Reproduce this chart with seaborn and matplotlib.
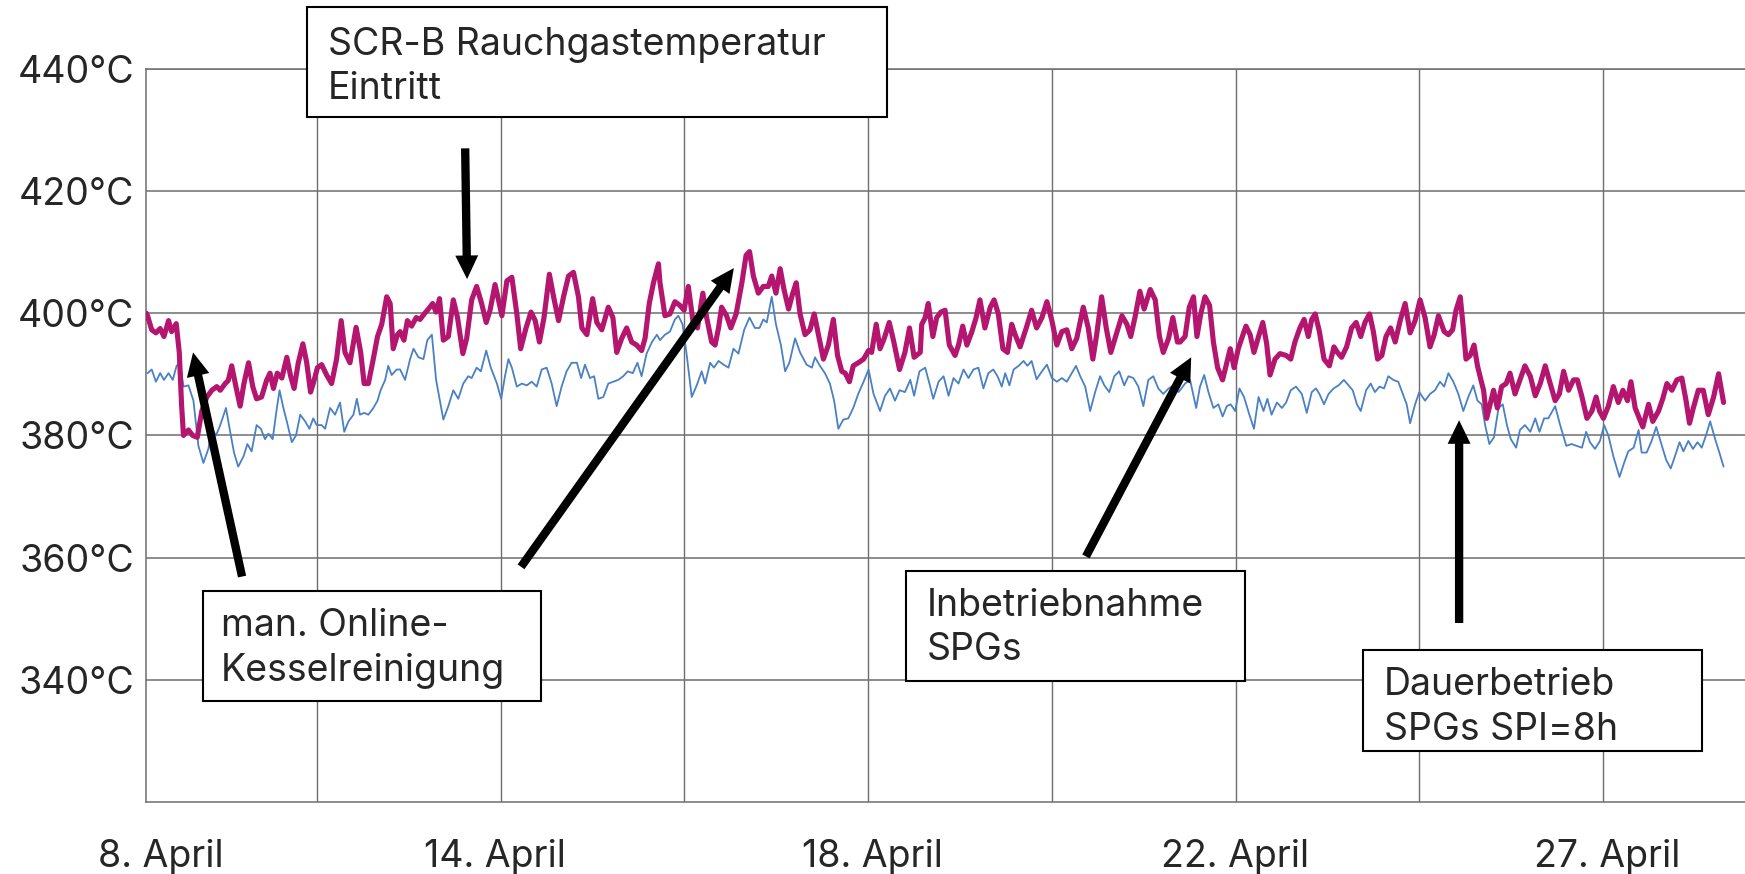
import matplotlib
matplotlib.use("Agg")
import matplotlib.pyplot as plt
import matplotlib.patches as mpatches
import pandas as pd
import seaborn as sns

# ------------------------
# Daten, Zeit in Stunden ab Start
# ------------------------
zeit_magenta = [
    3.4, 3.7, 4.8, 5.9, 7.0, 8.0, 9.2, 10.0, 11.2, 12.0, 12.6, 13.1, 14.4, 15.5, 16.7, 17.9, 19.2, 20.5, 21.8, 22.7,
    24.0, 24.8, 25.7, 26.8, 27.9, 28.9, 30.1, 31.2, 32.2, 33.5, 34.8, 35.7, 36.6, 37.6, 38.8, 40.1, 41.1, 42.0, 43.1, 44.3,
    45.3, 46.3, 47.0, 48.1, 49.2, 50.5, 51.8, 53.1, 54.3, 55.3, 56.6, 58.2, 59.4, 60.3, 61.4, 62.5, 63.8, 64.9, 66.2, 67.1,
    67.9, 69.0,
    69.7, 70.7, 71.6, 72.7, 73.9, 74.9, 76.0, 77.1, 78.2, 79.1, 80.0, 81.0, 82.3, 83.6, 84.7, 86.1, 87.1, 88.4, 89.7, 91.0,
    92.2, 93.2, 94.5, 95.4, 96.3, 97.6, 98.9, 100.2, 101.2, 102.6, 103.9, 105.0, 106.1, 107.3, 108.7, 109.8, 111.1, 112.4, 113.7, 115.0,
    116.3, 117.2, 118.5, 120.0, 121.1, 122.4, 124.1, 125.3, 126.3, 127.6, 128.9, 130.2, 131.5, 132.8, 133.7, 134.8, 135.9, 137.2,
    137.6, 138.9, 140.2, 141.5, 142.8, 143.9, 145.0, 146.2, 147.4, 148.8, 149.8, 151.1, 152.0, 152.9, 153.7, 155.0, 156.1, 157.5,
    159.0, 160.1, 161.0, 162.0, 163.3, 164.6, 165.9, 166.8, 167.9, 169.0, 170.0, 171.2, 172.3, 173.2, 174.2, 175.5, 176.8, 177.9,
    179.0, 180.3, 181.6, 182.9, 184.0, 185.1, 186.0, 187.1, 188.1, 189.4, 190.8, 192.1, 192.9, 194.1, 195.1, 196.2, 197.5, 198.6,
    200.2, 201.6, 202.8, 204.0, 205.6,
    206.0, 206.9, 207.7, 208.9, 209.9, 211.0, 212.1, 213.2, 214.7, 215.6, 216.7, 217.8, 219.1, 220.2, 221.2, 222.5, 223.9, 224.9,
    226.0, 227.2, 228.4, 229.5, 230.4, 231.7, 233.3, 234.7, 236.0, 237.4, 238.7, 240.0, 241.3, 242.6, 243.9, 245.2, 246.5, 248.2,
    249.5, 250.7, 251.7, 253.0, 254.2, 255.4, 256.5, 258.3, 259.6, 260.6, 261.7, 263.0, 264.1, 265.7, 267.0, 268.1, 269.1, 270.5,
    271.6, 272.8,
    273.5, 274.8, 275.9, 277.0, 277.9, 278.9, 280.0, 281.2, 282.2, 283.3, 284.6, 285.7, 286.6, 287.6, 288.7, 289.6, 290.7, 291.8,
    292.8, 294.0, 295.1, 296.1, 297.0, 298.3, 299.6, 301.2, 302.4, 303.5, 304.8, 305.9, 307.0, 307.9, 308.8, 309.9, 311.1, 312.5,
    313.7, 314.6, 315.7, 317.0, 318.3, 319.5, 320.7, 321.8, 323.0, 324.0, 325.1, 326.2, 327.3, 328.5, 329.7, 331.0, 332.3, 333.6,
    334.9, 336.2, 337.5, 338.8, 339.9, 341.0,
    342.5, 343.6, 344.7, 345.6, 346.7, 347.4, 348.2, 349.3, 350.3, 351.2, 352.1, 352.8, 353.6, 354.5, 355.4, 356.4, 357.5, 358.7,
    359.7, 361.0, 362.3, 363.6, 365.0, 366.3, 367.6, 368.9, 370.2, 371.5, 372.6, 373.7, 375.0, 376.3, 377.3, 378.5, 379.8, 381.1,
    382.2, 383.1, 384.1, 385.4, 386.7, 388.0, 389.2, 390.4, 391.3, 392.4, 393.5, 394.4, 395.9, 397.0, 398.5, 399.6, 400.7, 402.0,
    403.3, 404.6, 405.7, 406.6, 407.6, 408.9, 410.2, 411.5, 412.9, 414.2, 415.5,
]
temp_magenta = [
    400.0, 399.6, 397.3, 396.8, 397.5, 396.2, 398.8, 397.0, 398.3, 393.6, 385.0, 380.0, 380.9, 380.0, 379.7, 384.0, 386.3, 387.4, 388.0, 387.4,
    388.5, 389.0, 391.4, 388.0, 384.8, 388.5, 391.9, 388.0, 386.0, 386.3, 389.0, 390.2, 387.7, 390.2, 389.4, 392.8, 389.7, 387.7, 391.9, 395.0,
    391.9, 387.1, 388.5, 391.1, 391.6, 389.9, 388.5, 392.5, 398.8, 393.6, 391.9, 397.7, 393.6, 388.5, 388.5, 391.9, 396.2, 398.2, 402.7, 401.6,
    394.2, 396.5,
    397.0, 395.6, 398.8, 397.9, 399.3, 399.0, 399.9, 400.7, 401.6, 400.2, 402.4, 395.6, 396.2, 402.2, 399.3, 393.4, 395.9, 402.2, 404.4, 401.6,
    398.5, 400.5, 404.7, 402.2, 399.6, 405.3, 405.9, 399.9, 394.2, 397.6, 400.2, 398.8, 395.3, 399.3, 406.4, 402.7, 398.8, 402.7, 406.1, 406.7,
    402.7, 397.6, 396.5, 402.4, 398.5, 397.3, 401.0, 399.3, 393.6, 395.9, 397.6, 395.3, 394.8, 393.9, 395.9, 401.6, 405.0, 408.1,
    405.0, 399.6, 399.9, 401.9, 401.3, 400.5, 404.4, 398.8, 397.6, 403.3, 399.3, 395.3, 394.8, 397.6, 401.0, 399.6, 397.6, 399.9,
    405.0, 409.5, 410.1, 406.1, 403.3, 404.4, 404.4, 406.1, 403.3, 407.3, 403.9, 400.7, 403.3, 405.0, 399.9, 396.5, 397.3, 399.9,
    396.5, 392.5, 394.8, 399.0, 393.1, 390.5, 390.2, 388.8, 391.4, 391.9, 392.5, 393.9, 393.6, 398.2, 394.2, 395.9, 398.5, 395.6,
    390.8, 393.6, 397.6, 392.8, 393.6,
    398.2, 399.3, 401.6, 396.2, 399.3, 400.2, 400.5, 394.8, 393.1, 394.8, 397.9, 394.8, 397.0, 399.3, 402.2, 397.6, 401.0, 402.2,
    399.9, 394.2, 393.6, 398.2, 396.5, 394.5, 397.6, 400.5, 397.6, 399.3, 401.9, 398.8, 394.8, 397.0, 397.3, 394.2, 395.9, 401.0,
    397.6, 392.5, 396.5, 402.7, 397.6, 393.6, 395.9, 399.6, 398.2, 396.2, 399.3, 403.6, 400.7, 403.9, 402.2, 396.2, 393.6, 395.9,
    399.3, 395.3,
    395.3, 396.2, 401.0, 402.7, 396.2, 399.9, 402.7, 401.3, 395.3, 391.1, 389.1, 391.9, 394.2, 391.1, 394.2, 395.9, 397.9, 396.5,
    393.6, 396.2, 398.5, 395.1, 389.9, 392.5, 393.4, 393.1, 392.5, 395.3, 397.6, 399.0, 396.2, 399.0, 399.9, 397.0, 392.5, 391.4,
    394.5, 393.6, 392.8, 394.5, 397.6, 398.5, 396.2, 398.5, 399.9, 397.0, 392.5, 393.1, 396.2, 397.6, 395.3, 398.8, 401.6, 396.8,
    398.8, 402.2, 399.3, 394.5, 396.5, 399.6,
    397.0, 396.5, 397.3, 400.5, 402.7, 398.2, 392.5, 393.1, 394.8, 391.4, 389.1, 387.4, 382.8, 385.1, 387.4, 384.5, 388.0, 388.5,
    390.2, 386.8, 389.1, 391.4, 389.7, 386.5, 388.5, 391.4, 388.5, 385.7, 386.8, 390.5, 387.4, 389.1, 389.1, 386.3, 382.8, 384.0,
    386.3, 384.0, 382.8, 384.8, 388.0, 385.4, 387.4, 385.7, 388.8, 384.5, 382.8, 381.4, 385.1, 382.3, 384.0, 386.0, 388.5, 387.4,
    389.1, 389.4, 385.7, 382.0, 384.5, 387.4, 387.4, 383.4, 386.3, 390.1, 385.4,
]

zeit_blau = [
    3.7, 4.8, 5.9, 7.0, 8.0, 9.2, 10.3, 11.3, 12.2, 13.1, 14.4, 15.7, 17.0, 18.3, 19.6, 20.5, 21.6, 22.7, 24.2, 25.3,
    26.3, 27.4, 28.8, 29.8, 30.9, 32.2, 33.3, 34.4, 35.3, 36.4, 37.5, 38.2, 39.2, 40.1, 41.4, 42.5, 43.6, 44.9, 46.0, 47.0,
    47.9, 49.2, 50.1, 51.4, 52.7, 54.0, 55.1, 56.2, 57.5, 58.4, 59.2, 60.3, 61.4, 62.7, 63.8, 64.6, 65.8, 66.6, 67.5, 68.8,
    69.7, 71.0, 72.3, 73.2, 74.5, 75.8, 76.8, 78.0, 79.1, 81.0, 82.3, 83.6, 84.9, 86.2, 87.5, 88.4, 89.7, 90.8, 92.2, 93.4,
    95.0, 96.1, 97.1, 98.0, 98.9, 100.2, 101.5, 102.8, 104.1, 105.4, 106.7, 108.0, 109.3, 110.6, 111.9, 113.2, 114.5, 115.9, 117.0, 118.0,
    119.3, 120.4, 121.5, 122.8, 124.1, 125.4, 126.7, 128.0, 129.2, 130.5, 131.7, 132.8, 134.1, 135.5, 136.8,
    137.6, 138.9, 140.2, 141.5, 142.4, 143.5, 144.6, 145.9, 147.2, 148.5, 149.4, 150.7, 151.7, 152.9, 154.2, 155.5, 156.8, 158.1,
    159.6, 161.0, 162.4, 163.6, 164.6, 165.5, 166.8, 167.9, 169.2, 170.3, 171.4, 172.9, 174.2, 175.9, 177.3, 178.1, 179.4, 180.7,
    182.0, 183.1, 184.2, 185.5, 186.8, 188.1, 189.4, 190.8, 192.1, 193.4, 195.1, 196.4, 197.7, 199.0, 200.2, 201.6, 203.0, 204.0,
    205.4,
    206.9, 208.0, 209.0, 210.4, 211.7, 213.0, 214.3, 215.6, 216.9, 218.2, 219.5, 220.8, 222.1, 223.4, 224.7, 225.8, 226.9, 227.8,
    228.9, 230.0, 231.3, 232.6, 233.6, 234.7, 236.0, 237.4, 238.7, 240.0, 241.3, 242.6, 243.9, 245.2, 246.3, 247.4, 248.7, 250.0,
    251.3, 252.6, 253.7, 255.0, 256.3, 257.6, 258.9, 260.0, 261.3, 262.6, 263.9, 265.2, 266.5, 267.8, 269.1, 270.5, 271.8, 273.1,
    274.8, 276.1, 277.7, 278.7, 279.8, 280.9, 282.2, 283.5, 284.6, 285.7, 286.7, 287.9, 289.0, 290.2, 291.6, 292.8, 294.0, 295.3,
    296.3, 297.4, 298.8, 300.1, 301.2, 302.4, 303.8, 305.3, 306.6, 307.9, 309.0, 309.9, 311.1, 312.3, 313.6, 314.9, 316.3, 317.5,
    318.6, 319.7, 320.7, 322.1, 323.3, 324.4, 325.6, 326.8, 327.9, 329.2, 330.5, 331.7, 332.7, 333.6, 334.9, 336.0, 337.5, 338.8,
    340.1, 341.4,
    342.5, 343.6, 344.9, 346.2, 347.5, 348.8, 350.1, 351.2, 352.3, 353.2, 354.3, 355.5, 356.7, 357.8, 358.9, 359.9, 361.3, 362.3,
    363.6, 365.0, 366.3, 367.4, 368.6, 369.7, 371.5, 372.8, 374.4, 375.8, 377.1, 378.5, 379.6, 380.6, 381.9, 383.2, 384.3, 385.4,
    386.7, 388.3, 389.5, 390.6, 392.0, 393.3, 394.1, 395.4, 396.7, 397.9, 399.1, 400.5, 401.7, 402.8, 404.0, 405.0, 406.3, 407.5,
    408.7, 409.8, 410.9, 412.0, 413.3, 414.4, 415.5,
]
temp_blau = [
    390.2, 390.8, 388.8, 390.2, 389.1, 390.2, 389.1, 391.4, 391.9, 388.0, 388.2, 385.7, 378.3, 375.5, 377.8, 381.1, 380.0, 381.7, 384.5, 380.6,
    377.2, 374.9, 376.6, 378.6, 377.4, 381.7, 381.1, 379.4, 380.3, 379.4, 384.5, 387.4, 384.5, 382.3, 378.9, 380.0, 383.4, 382.3, 381.1, 382.8,
    381.7, 381.7, 381.1, 384.5, 383.4, 385.4, 380.6, 382.3, 383.4, 386.0, 383.4, 383.7, 383.4, 384.5, 385.7, 387.4, 389.1, 391.4, 389.9, 390.8,
    390.8, 389.1, 392.5, 394.2, 392.8, 392.5, 395.6, 396.5, 389.1, 382.6, 384.8, 387.4, 386.0, 388.5, 389.7, 389.4, 391.1, 390.5, 393.9, 391.1,
    388.5, 386.0, 389.7, 392.5, 391.1, 388.0, 388.5, 388.2, 388.8, 388.0, 390.8, 391.1, 388.5, 384.8, 388.0, 390.5, 391.9, 391.9, 389.4, 391.6,
    389.4, 389.7, 386.0, 386.3, 388.5, 388.8, 389.1, 389.7, 390.5, 390.2, 391.9, 389.7, 393.4, 395.3, 396.5,
    395.6, 396.5, 397.0, 399.0, 399.6, 398.2, 393.1, 386.3, 388.2, 390.5, 388.5, 391.9, 391.1, 392.2, 391.6, 391.1, 394.2, 393.4,
    397.3, 399.3, 397.6, 397.6, 399.0, 398.5, 402.7, 398.2, 394.8, 390.5, 391.9, 395.9, 393.6, 391.6, 391.1, 392.8, 391.4, 390.2,
    388.5, 385.7, 381.1, 382.6, 382.8, 384.5, 386.8, 388.8, 390.8, 386.8, 384.0, 386.5, 387.7, 385.7, 387.4, 387.1, 389.1, 386.5,
    390.5,
    391.1, 388.5, 386.0, 388.8, 389.7, 386.5, 389.4, 388.5, 390.8, 389.4, 390.8, 391.1, 387.7, 390.2, 390.8, 389.7, 388.0, 390.2,
    388.2, 390.8, 391.4, 392.2, 391.4, 392.2, 389.2, 390.5, 391.6, 389.4, 388.8, 389.4, 388.8, 390.2, 391.4, 389.7, 388.0, 384.0,
    387.1, 389.7, 388.2, 387.1, 389.7, 390.5, 388.2, 389.7, 389.4, 388.0, 384.8, 389.1, 389.7, 387.7, 386.8, 387.7, 388.2, 387.1,
    388.5, 389.1, 384.5, 388.0, 389.9, 387.1, 384.5, 385.1, 383.1, 384.8, 385.1, 384.0, 387.7, 386.3, 383.4, 381.1, 386.3, 384.0,
    386.0, 383.4, 385.4, 384.5, 385.4, 387.4, 388.0, 386.8, 383.7, 387.1, 387.7, 386.8, 385.1, 386.8, 387.7, 388.2, 389.1, 388.2,
    387.4, 385.1, 384.0, 387.4, 388.5, 387.1, 388.0, 387.7, 389.7, 389.1, 388.8, 386.8, 385.1, 382.0, 385.1, 387.1, 385.7, 386.8,
    387.4, 388.8,
    388.0, 390.2, 388.8, 386.8, 384.0, 386.3, 388.2, 385.7, 385.1, 381.7, 378.6, 379.7, 384.5, 385.1, 381.7, 379.4, 378.0, 380.9,
    381.7, 380.6, 382.8, 380.6, 382.8, 382.8, 384.8, 381.7, 378.3, 378.6, 378.3, 378.0, 380.6, 378.9, 377.8, 379.1, 381.7, 380.0,
    376.6, 373.2, 375.5, 377.4, 378.0, 380.9, 377.2, 377.2, 379.1, 381.4, 378.9, 376.0, 374.6, 376.6, 378.9, 377.4, 379.1, 377.8,
    378.9, 378.0, 380.0, 382.3, 379.4, 377.2, 374.9,
]

y_ticks = [340, 360, 380, 400, 420, 440]
y_labels = [f"{v}°C" for v in y_ticks]
x_label_pos = [7.2, 94.5, 193.0, 287.9, 385.1]
x_labels = ["8. April", "14. April", "18. April", "22. April", "27. April"]
x_grid = [48, 96, 144, 192, 240, 288, 336, 384]

# Annotationen: Text, Box (fig-Anteile x, y, b, h), Textanker (x, y)
anno_texte = ["SCR-B Rauchgastemperatur\nEintritt", "man. Online-\nKesselreinigung",
              "Inbetriebnahme\nSPGs", "Dauerbetrieb\nSPGs SPI=8h"]
anno_boxen = [(0.1759, 0.8661, 0.3324, 0.1259), (0.1163, 0.1979, 0.1937, 0.1259),
              (0.5192, 0.2208, 0.1943, 0.1259), (0.7811, 0.1407, 0.1943, 0.1156)]
anno_text_pos = [(0.188, 0.969), (0.1266, 0.3041), (0.5312, 0.3274), (0.7931, 0.2367)]
# Pfeile in Datenkoordinaten (Start -> Spitze)
pfeile = [((86.7, 427.0), (87.2, 405.6)), ((28.4, 356.9), (15.6, 393.6)),
          ((101.3, 358.5), (156.9, 407.4)), ((248.9, 360.2), (276.4, 392.8)),
          ((346.4, 349.3), (346.4, 382.5))]

# ------------------------
# Plot
# ------------------------
sns.set_style("white")
plt.rcParams["font.family"] = ["Inter", "DejaVu Sans"]

df_m = pd.DataFrame({"zeit": zeit_magenta, "temp": temp_magenta})
df_b = pd.DataFrame({"zeit": zeit_blau, "temp": temp_blau})

fig = plt.figure(figsize=(17.45, 8.74), dpi=100)
ax = fig.add_axes([0.0837, 0.0824, 0.9163, 0.8387])

sns.lineplot(data=df_b, x="zeit", y="temp", ax=ax, color="#4a80c4", linewidth=1.3, zorder=3)
sns.lineplot(data=df_m, x="zeit", y="temp", ax=ax, color="#b4156e", linewidth=3.7, zorder=4)

ax.set_xlim(3.32, 421.1)
ax.set_ylim(320, 440)
ax.set_yticks(y_ticks, y_labels)
ax.set_xticks(x_label_pos, x_labels)
ax.set_xticks(x_grid, minor=True)
ax.tick_params(axis="both", which="both", length=0, labelsize=27)
ax.tick_params(axis="x", pad=27)
ax.tick_params(axis="y", pad=8.5)
ax.grid(False)
ax.grid(True, axis="y", which="major", color="#6e6e6e", linewidth=1.1)
ax.grid(True, axis="x", which="minor", color="#6e6e6e", linewidth=1.0)
ax.set_xlabel("")
ax.set_ylabel("")
for s in ["left", "bottom", "top"]:
    ax.spines[s].set_color("#6e6e6e")
    ax.spines[s].set_linewidth(1.1)
ax.spines["right"].set_visible(False)

for (x0, y0), (x1, y1) in pfeile:
    ax.annotate("", xy=(x1, y1), xytext=(x0, y0), annotation_clip=False,
                arrowprops=dict(arrowstyle="simple,head_length=1.7,head_width=1.65,tail_width=0.6",
                                mutation_scale=10, facecolor="black", edgecolor="black",
                                linewidth=0, shrinkA=0, shrinkB=0), zorder=6)

for txt, (bx, by, bw, bh), (tx, ty) in zip(anno_texte, anno_boxen, anno_text_pos):
    fig.add_artist(mpatches.Rectangle((bx, by), bw, bh, transform=fig.transFigure,
                                      facecolor="white", edgecolor="black", linewidth=1.5, zorder=5))
    fig.text(tx, ty, txt, fontsize=27, va="top", ha="left", linespacing=1.3, zorder=6)

plt.savefig("out.png", dpi=100)
